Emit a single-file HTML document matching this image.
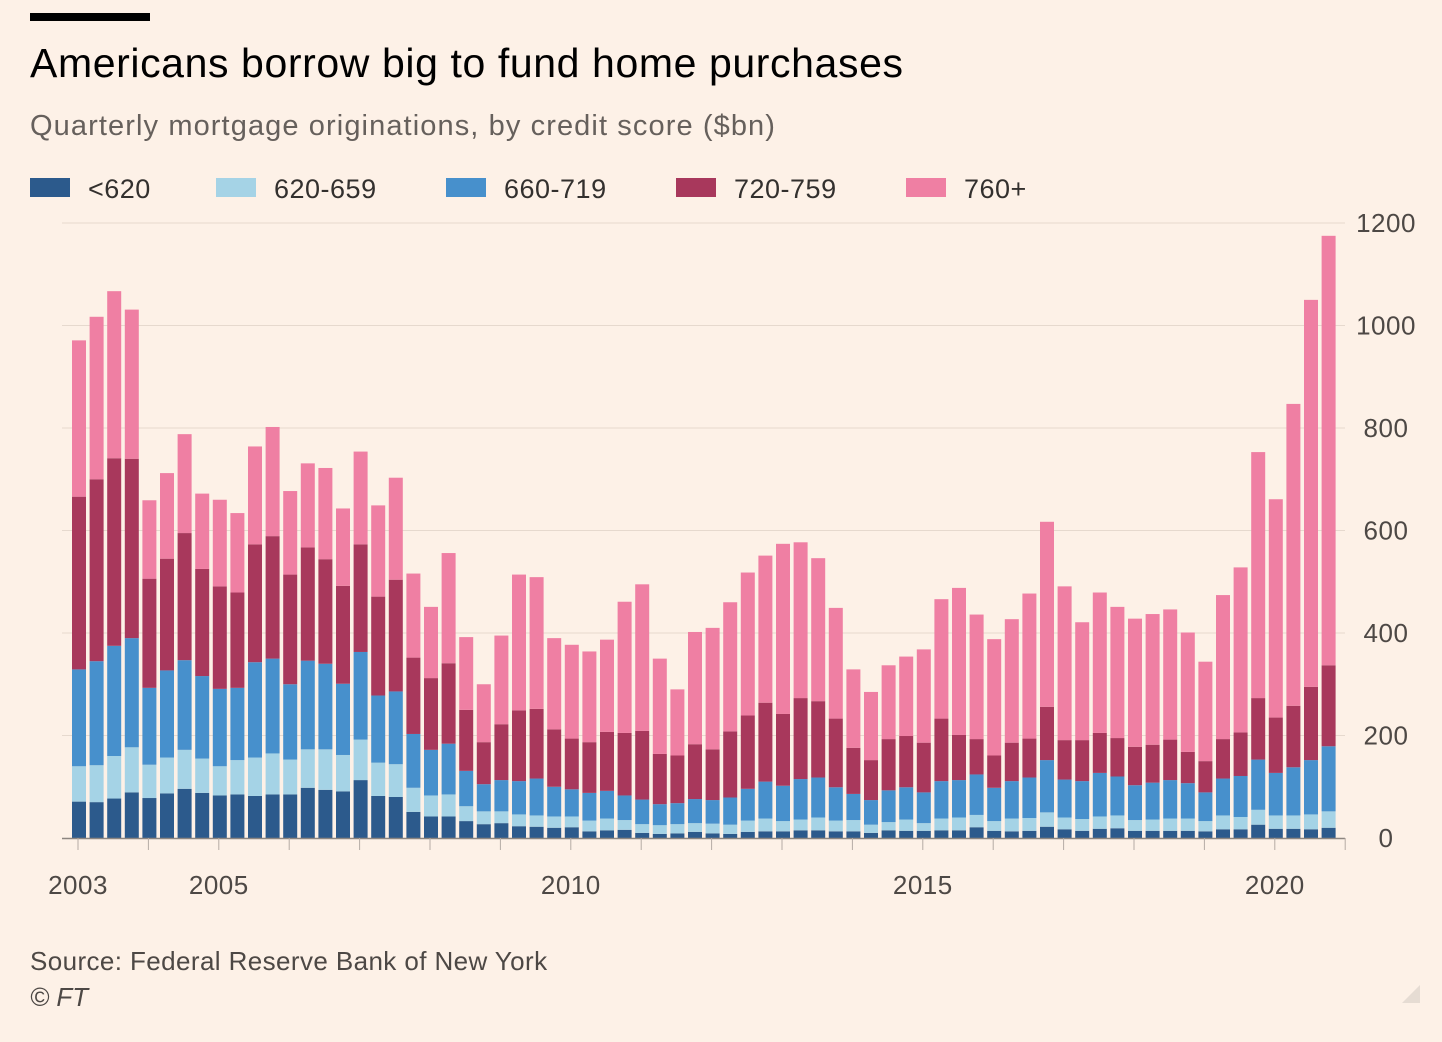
<!DOCTYPE html>
<html><head><meta charset="utf-8">
<style>
html,body{margin:0;padding:0;background:#fdf1e7;}
body{width:1442px;height:1042px;position:relative;overflow:hidden;font-family:"Liberation Sans",sans-serif;}
.topbar{position:absolute;left:30px;top:13px;width:120px;height:8px;background:#000;}
h1{position:absolute;left:30px;top:40px;margin:0;font-size:41px;font-weight:normal;color:#000;letter-spacing:0.6px;}
.sub{position:absolute;left:30px;top:110px;font-size:29px;color:#66605c;letter-spacing:1.1px;}
.legend{position:absolute;top:174px;left:30px;font-size:27px;color:#33302e;letter-spacing:0.5px;}
.li{position:absolute;top:0;white-space:nowrap;}
.sw{display:inline-block;width:40px;height:19px;vertical-align:middle;margin-right:18px;position:relative;top:-3px;}
.src{position:absolute;left:30px;top:946px;font-size:26px;color:#4d4845;letter-spacing:0.4px;}
.ft{position:absolute;left:30px;top:982px;font-size:26px;color:#4d4845;font-style:italic;}
svg{position:absolute;left:0;top:0;}
</style></head><body>
<div class="topbar"></div>
<h1>Americans borrow big to fund home purchases</h1>
<div class="sub">Quarterly mortgage originations, by credit score ($bn)</div>
<div class="legend">
 <span class="li" style="left:0"><span class="sw" style="background:#2c5a8c"></span>&lt;620</span>
 <span class="li" style="left:186px"><span class="sw" style="background:#a5d3e6"></span>620-659</span>
 <span class="li" style="left:416px"><span class="sw" style="background:#4790cc"></span>660-719</span>
 <span class="li" style="left:646px"><span class="sw" style="background:#a8385c"></span>720-759</span>
 <span class="li" style="left:876px"><span class="sw" style="background:#ef7fa3"></span>760+</span>
</div>
<svg id="chart" width="1442" height="1042"></svg>
<div class="src">Source: Federal Reserve Bank of New York</div>
<div class="ft">© FT</div>
<svg width="1442" height="1042" style="pointer-events:none"><polygon points="1420,985 1420,1003 1402,1003" fill="#e6dcd3"/></svg>
<script>
const yTicks=[0,200,400,600,800,1000,1200];
const xYears=[2003,2005,2010,2015,2020];
const s620=[71,70,77,89,78,87,96,88,83,85,82,85,85,98,94,91,113,82,80,51,42,42,33,27,29,23,22,20,21,13,15,16,10,8,9,12,9,8,12,13,13,15,15,13,13,10,15,14,14,15,15,21,14,13,14,22,17,14,18,19,14,14,14,14,13,17,17,26,18,18,17,20];
const s659=[69,72,83,88,65,70,76,67,57,67,75,80,68,75,79,71,79,65,64,47,41,43,29,25,23,23,22,22,21,21,23,19,17,17,18,17,19,18,22,25,20,21,25,21,22,16,16,22,15,23,25,24,19,25,25,28,23,23,24,25,21,22,24,24,20,27,24,29,26,26,29,32];
const s719=[189,203,215,213,150,170,175,161,151,141,186,185,147,173,167,139,171,131,142,105,89,99,69,53,61,65,72,58,53,54,54,48,48,41,41,47,46,53,62,72,69,79,78,65,51,48,62,63,60,73,73,79,65,73,79,102,74,74,85,76,68,72,75,69,56,72,80,98,83,94,106,127];
const s759=[337,355,366,350,213,218,248,209,200,186,230,239,214,221,204,191,210,193,218,149,140,157,119,82,109,138,136,112,99,99,115,122,134,98,93,107,99,129,143,154,140,158,149,134,90,78,100,100,97,122,88,69,63,75,76,104,77,80,78,75,75,74,79,61,61,77,85,120,108,120,143,158];
const s760=[305,317,326,291,153,167,193,147,169,155,191,213,163,164,178,151,181,178,199,164,139,215,142,113,173,265,257,178,183,177,180,256,286,186,129,219,237,252,279,287,332,304,279,216,153,133,144,155,182,233,287,243,227,241,283,361,300,230,274,256,250,255,254,233,194,281,322,480,426,589,755,838];
const seriesList=[s620,s659,s719,s759,s760];
const colors=['#2c5a8c','#a5d3e6','#4790cc','#a8385c','#ef7fa3'];
const sNames=['lt620','620-659','660-719','720-759','760plus'];
const NS='http://www.w3.org/2000/svg';
const svg=document.getElementById('chart');
const y0=838,k=615/1200,left=62,right=1345,x0=79,step=17.6,bw=14;
function yS(v){return y0-v*k;}
function xS(i){return x0+step*i;}
function xYear(yr){return x0-1+step*4*(yr-2003);}
function el(t,a){const e=document.createElementNS(NS,t);for(const n in a)e.setAttribute(n,a[n]);svg.appendChild(e);return e;}
yTicks.forEach(v=>{
 if(v>0){const g=el('line',{x1:left,x2:right,y1:yS(v),y2:yS(v),stroke:'#e6d9ce','stroke-width':1});
 
 }
 const t=el('text',{x:1386,y:yS(v)+9,'text-anchor':'middle','font-size':26,fill:'#4d4845','font-family':'Liberation Sans, sans-serif','letter-spacing':'0.5'});
 t.textContent=v;
 
 
});
for(let i=0;i<s620.length;i++){
 let cum=0;
 seriesList.forEach((s,j)=>{
  const r=el('rect',{x:xS(i)-bw/2,y:yS(cum+s[i]),width:bw,height:s[i]*k,fill:colors[j]});
  
  
  cum+=s[i];
 });
}
const base=el('line',{x1:left,x2:right,y1:y0+0.5,y2:y0+0.5,stroke:'#8c8580','stroke-width':1.5});


for(let yr=2003;yr<=2021;yr++){
 const tk=el('line',{x1:xYear(yr),x2:xYear(yr),y1:y0,y2:y0+12,stroke:'#b5aca5','stroke-width':1});
 
 
}
xYears.forEach(yr=>{
 const t=el('text',{x:xYear(yr),y:894,'text-anchor':'middle','font-size':26,fill:'#4d4845','font-family':'Liberation Sans, sans-serif','letter-spacing':'0.5'});
 t.textContent=yr;
 
 
});
</script>
</body></html>
